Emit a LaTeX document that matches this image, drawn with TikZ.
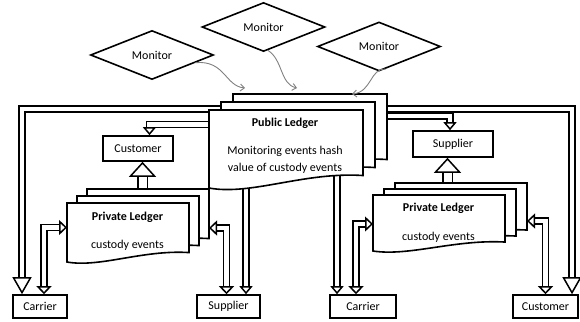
\documentclass[tikz,border=0pt]{standalone}
\usepackage{fontspec}
\setmainfont{Carlito}
\usetikzlibrary{arrows.meta,shapes.geometric}

% one sheet of a ledger: left, top, width, height
\newcommand{\docsheet}[4]{%
  \draw[sheet] ({#1},{#2}) -- ({#1+#3},{#2}) -- ({#1+#3},{#2+0.84*#4})
    .. controls ({#1+0.62*#3},{#2+0.79*#4}) and ({#1+0.27*#3},{#2+1.1*#4})
    .. ({#1},{#2+#4}) -- cycle;}

\tikzset{
  sheet/.style={draw, line width=1.6pt, fill=white},
  box/.style={draw, line width=1.6pt, fill=white, minimum height=23pt, inner sep=0pt},
  monitor/.style={diamond, draw, line width=1.6pt, fill=white,
    minimum width=123pt, minimum height=49pt, inner sep=0pt},
  link/.style={double, double distance=4.5pt, line width=1.5pt},
  fat/.style={double, double distance=8pt, line width=1.5pt},
  watch/.style={draw=gray, line width=0.9pt, -{Straight Barb[length=4pt,width=7pt]}},
  bigend/.tip={Triangle[open,line width=1.5pt,length=17pt,width=19pt]},
  smallend/.tip={Triangle[open,line width=1.5pt,length=8pt,width=13pt]},
  duoend/.tip={Triangle[open,line width=1.5pt,length=8pt,width=15pt]},
  fatend/.tip={Triangle[open,line width=1.5pt,length=15pt,width=27pt]},
}

\begin{document}
\begin{tikzpicture}[x=1pt,y=-1pt,font=\fontsize{12}{14}\selectfont]
\useasboundingbox (0,0) rectangle (580,321);

% monitors
\node[monitor] (monL) at (152,55) {Monitor};
\node[monitor] (monM) at (263.5,27) {Monitor};
\node[monitor] (monR) at (379,46.5) {Monitor};

% parties
\node[box, minimum width=70pt, minimum height=25pt] (custL) at (138,148.5) {Customer};
\node[box, minimum width=80pt, minimum height=26pt] (supR) at (453,144) {Supplier};
\node[box, minimum width=54pt] (carL) at (40,306.5) {Carrier};
\node[box, minimum width=63pt] (supL) at (228.5,306.5) {Supplier};
\node[box, minimum width=66pt] (carR) at (363,306.5) {Carrier};
\node[box, minimum width=65pt] (custR) at (545.5,306.5) {Customer};

% where the links meet the ledgers
\coordinate (pubA) at (230,109);
\coordinate (pubB) at (215,124.5);
\coordinate (pubF) at (246,180);
\coordinate (pubK) at (337,170);
\coordinate (pubG) at (380,116);
\coordinate (pubH) at (380,109);
\coordinate (privLtop) at (142.5,195);
\coordinate (privLw) at (67,227.5);
\coordinate (privLe) at (209,228);
\coordinate (privRtop) at (447.5,190);
\coordinate (privRw) at (373,224);
\coordinate (privRe) at (527,221);

% links
\draw[link, -{bigend}] (pubA) -| ([xshift=-18pt]carL.north);
\draw[link, -{smallend}] (pubB) -| ([xshift=11.5pt]custL.north);
\draw[link, -{smallend}] (pubF) -- ([xshift=17.5pt]supL.north);
\draw[link, -{smallend}] (pubK) -- ([xshift=-26pt]carR.north);
\draw[link, -{smallend}] (pubG) -| ([xshift=-3pt]supR.north);
\draw[link, -{bigend}] (pubH) -| ([xshift=26.5pt]custR.north);
\draw[fat, -{fatend}] (privLtop) -- ([xshift=4.5pt]custL.south);
\draw[fat, -{fatend}] (privRtop) -- ([xshift=-5.5pt]supR.south);
\draw[link, {duoend}-{duoend}] ([xshift=4pt]carL.north) |- (privLw);
\draw[link, {duoend}-{duoend}] ([xshift=-2pt]supL.north) |- (privLe);
\draw[link, {duoend}-{duoend}] ([xshift=-7pt]carR.north) |- (privRw);
\draw[link, {duoend}-{duoend}] (custR.north) |- (privRe);

% ledgers, back sheet first
\foreach \k in {2,1,0} {\docsheet{209+12*\k}{110-8*\k}{154}{78}}
\foreach \k in {2,1,0} {\docsheet{67+10*\k}{203-7*\k}{122}{59}}
\foreach \k in {2,1,0} {\docsheet{373+11*\k}{195-6*\k}{132}{56}}

\node[font=\fontsize{12}{14}\selectfont\bfseries] (pubT) at (285,123) {Public Ledger};
\node[align=center, font=\fontsize{12}{17}\selectfont] (pub) at (285,159.5)
  {Monitoring events hash\\value of custody events};
\node[font=\fontsize{12}{14}\selectfont\bfseries] (privLT) at (127.5,217) {Private Ledger};
\node (privL) at (127.5,245) {custody events};
\node[font=\fontsize{12}{14}\selectfont\bfseries] (privRT) at (438.5,208) {Private Ledger};
\node (privR) at (438.5,237) {custody events};

% monitoring feeds
\coordinate (inL) at (245,88);
\coordinate (inM) at (297,88);
\coordinate (inR) at (352,94);
\draw[watch] (monL.-10) .. controls (225,60) and (225,86) .. (inL);
\draw[watch] (monM.-79) .. controls (283,60) and (280,84) .. (inM);
\draw[watch] (monR.-74) .. controls (370,68) and (372,92) .. (inR);
\end{tikzpicture}
\end{document}
